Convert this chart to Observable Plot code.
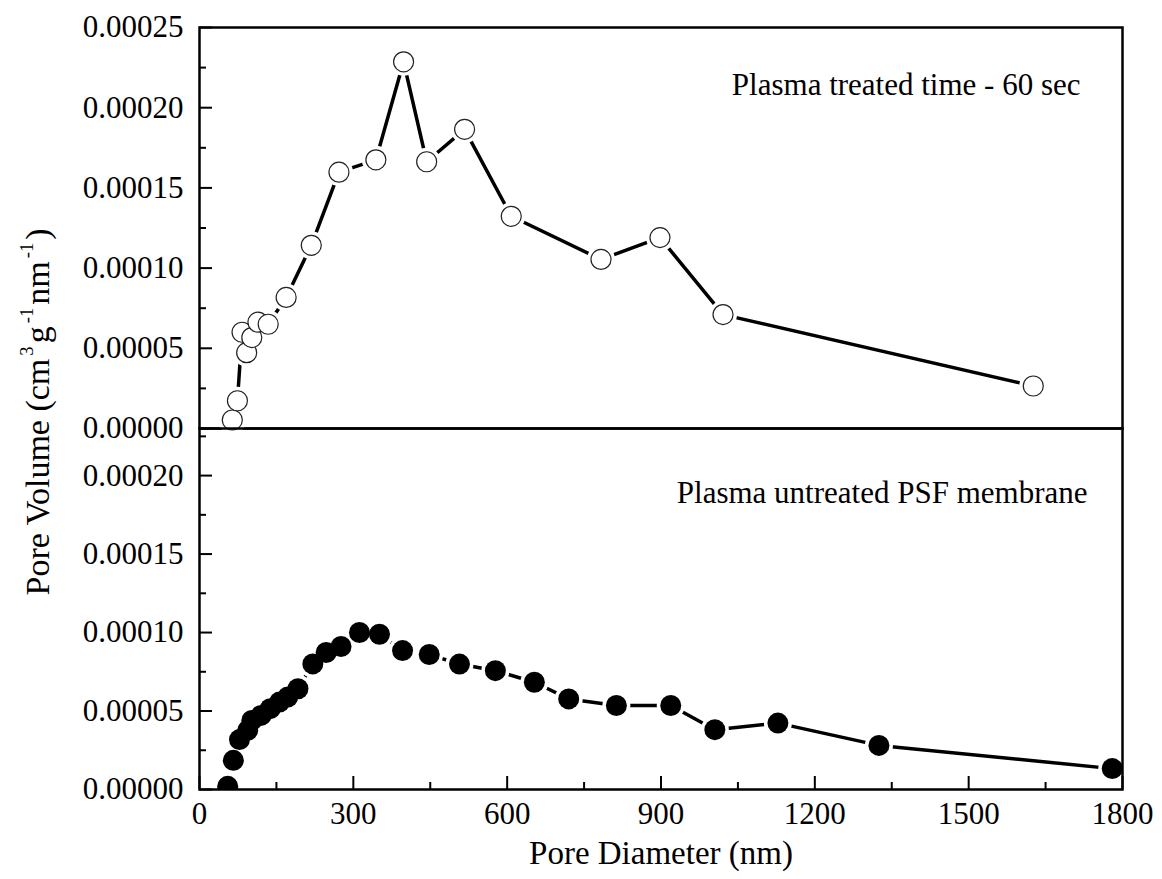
<!DOCTYPE html>
<html>
<head>
<meta charset="utf-8">
<script src="https://cdn.jsdelivr.net/npm/d3@7"></script>
<script src="https://cdn.jsdelivr.net/npm/@observablehq/plot@0.6"></script>
<style>
  body { margin: 0; background: #fff; }
  #wrap { position: relative; width: 1162px; height: 879px; background: #fff; font-family: "Liberation Serif", "Times New Roman", serif; color: #000; }
  #wrap svg { position: absolute; left: 0; }
  #ylab { position: absolute; white-space: nowrap; font-size: 34px; line-height: 1; transform-origin: center center; }
  #ylab sup { font-size: 0.55em; vertical-align: 0.9em; margin: 0 3px; }
</style>
</head>
<body>
<div id="wrap"></div>
<script>
// ---- data ----
const treatedDiameter = [64, 74, 83, 92, 102, 114, 134, 169, 218, 272, 344, 398, 443, 517, 608, 783, 898, 1021, 1626];
const treatedVolume = [0.0000053, 0.0000173, 0.0000600, 0.0000473, 0.0000567, 0.0000663, 0.0000650, 0.0000817, 0.0001142, 0.0001598, 0.0001675, 0.0002286, 0.0001663, 0.0001865, 0.0001323, 0.0001054, 0.0001190, 0.0000710, 0.0000265];

const untreatedDiameter = [55, 66, 78, 94, 102, 120, 138, 156, 172, 192, 221, 247, 276, 312, 351, 396, 448, 507, 577, 653, 720, 813, 919, 1005, 1128, 1325, 1780];
const untreatedVolume = [0.0000020, 0.0000186, 0.0000318, 0.0000377, 0.0000440, 0.0000472, 0.0000515, 0.0000557, 0.0000589, 0.0000642, 0.0000800, 0.0000873, 0.0000911, 0.0001000, 0.0000989, 0.0000885, 0.0000860, 0.0000799, 0.0000757, 0.0000683, 0.0000577, 0.0000535, 0.0000535, 0.0000381, 0.0000423, 0.0000281, 0.0000133];

const xTicks = [0, 300, 600, 900, 1200, 1500, 1800];
const xMinorTicks = [150, 450, 750, 1050, 1350, 1650];
const yTicksTop = [0, 0.00005, 0.0001, 0.00015, 0.0002, 0.00025];
const yMinorTicksTop = [0.000025, 0.000075, 0.000125, 0.000175, 0.000225];
const yTicksBottom = [0, 0.00005, 0.0001, 0.00015, 0.0002];
const yMinorTicksBottom = [0.000025, 0.000075, 0.000125, 0.000175, 0.000225];
const panelLabels = ["Plasma treated time - 60 sec", "Plasma untreated PSF membrane"];
const xLabel = "Pore Diameter (nm)";
const yLabelParts = ["Pore Volume (cm", "3", "g", "-1", "nm", "-1", ")"];

const treated = treatedDiameter.map((d, i) => ({d, v: treatedVolume[i]}));
const untreated = untreatedDiameter.map((d, i) => ({d, v: untreatedVolume[i]}));

// ---- layout ----
const W = 1162, ML = 199, MR = 40;
const plotW = W - ML - MR;
const topH = 428, topMT = 27;
const botH = 451, botMB = 90;
const botPanelH = botH - botMB;
const font = "'Liberation Serif', 'Times New Roman', serif";
const baseStyle = {fontFamily: font, fontSize: "31px", color: "black", background: "transparent", overflow: "visible"};
const fmt = d => d.toFixed(5);

const wrap = document.getElementById("wrap");

const botPlot = Plot.plot({
  width: W, height: botH,
  marginLeft: ML, marginRight: MR, marginTop: 0, marginBottom: botMB,
  style: baseStyle,
  x: {domain: [0, 1800], ticks: xTicks, tickFormat: d => String(d), tickSize: 0, tickPadding: 12, label: null},
  y: {domain: [0, 0.00023], ticks: yTicksBottom, tickFormat: fmt, tickSize: 0, tickPadding: 16, label: null},
  marks: [
    Plot.line(untreated, {x: "d", y: "v", stroke: "black", strokeWidth: 3.5}),
    Plot.dot(untreated, {x: "d", y: "v", r: 14, fill: "white", stroke: "none", clip: true}),
    Plot.dot(untreated, {x: "d", y: "v", r: 10.5, fill: "black", stroke: "none", clip: true}),
    Plot.tickY(yTicksBottom, {y: d => d, insetRight: plotW - 13, stroke: "black", strokeWidth: 2}),
    Plot.tickY(yMinorTicksBottom, {y: d => d, insetRight: plotW - 7, stroke: "black", strokeWidth: 2}),
    Plot.tickX(xTicks, {x: d => d, insetTop: botPanelH - 13, stroke: "black", strokeWidth: 2}),
    Plot.tickX(xMinorTicks, {x: d => d, insetTop: botPanelH - 7, stroke: "black", strokeWidth: 2}),
    Plot.text([panelLabels[1]], {frameAnchor: "top-right", dx: -35, dy: 52, textAnchor: "end", fontSize: 31, fill: "black"}),
    Plot.text([xLabel], {frameAnchor: "bottom", dy: 74, fontSize: 33, fill: "black"}),
    Plot.frame({stroke: "black", strokeWidth: 2.5})
  ]
});
botPlot.style.top = topH + "px";
botPlot.style.zIndex = "0";
wrap.appendChild(botPlot);

const topPlot = Plot.plot({
  width: W, height: topH,
  marginLeft: ML, marginRight: MR, marginTop: topMT, marginBottom: 0,
  style: baseStyle,
  x: {domain: [0, 1800], axis: null},
  y: {domain: [0, 0.00025], ticks: yTicksTop, tickFormat: fmt, tickSize: 0, tickPadding: 16, label: null},
  marks: [
    Plot.line(treated, {x: "d", y: "v", stroke: "black", strokeWidth: 3.5}),
    Plot.dot(treated, {x: "d", y: "v", r: 14, fill: "white", stroke: "none"}),
    Plot.dot(treated, {x: "d", y: "v", r: 10, fill: "white", stroke: "#222", strokeWidth: 1.2}),
    Plot.tickY(yTicksTop, {y: d => d, insetRight: plotW - 13, stroke: "black", strokeWidth: 2}),
    Plot.tickY(yMinorTicksTop, {y: d => d, insetRight: plotW - 7, stroke: "black", strokeWidth: 2}),
    Plot.text([panelLabels[0]], {frameAnchor: "top-right", dx: -42, dy: 45, textAnchor: "end", fontSize: 31, fill: "black"}),
    Plot.frame({stroke: "black", strokeWidth: 2.5})
  ]
});
topPlot.style.top = "0px";
topPlot.style.zIndex = "1";
wrap.appendChild(topPlot);

// y-axis title spanning both panels
const ylab = document.createElement("div");
ylab.id = "ylab";
ylab.innerHTML = yLabelParts[0] + "<sup>" + yLabelParts[1] + "</sup>" + yLabelParts[2] +
  "<sup>" + yLabelParts[3] + "</sup>" + yLabelParts[4] + "<sup>" + yLabelParts[5] + "</sup>" + yLabelParts[6];
wrap.appendChild(ylab);
const r = ylab.getBoundingClientRect();
ylab.style.left = (36 - r.width / 2) + "px";
ylab.style.top = (412 - r.height / 2) + "px";
ylab.style.transform = "rotate(-90deg)";
</script>
</body>
</html>
